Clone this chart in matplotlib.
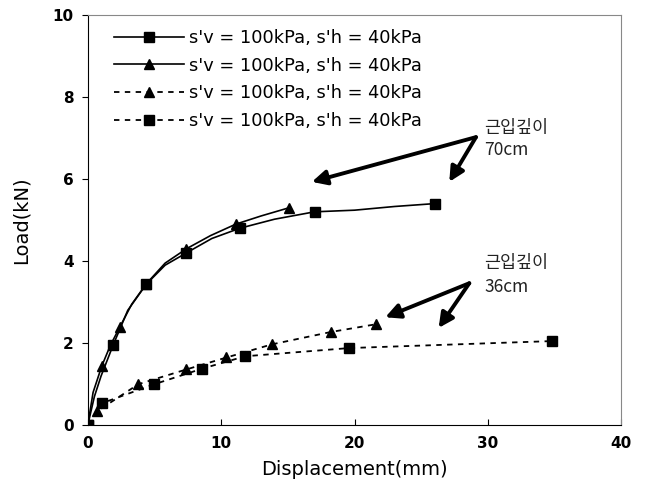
import matplotlib
matplotlib.use("Agg")
import matplotlib.pyplot as plt

plt.rcParams['font.family'] = ['DejaVu Sans', 'Noto Sans CJK KR']

label = "s'v = 100kPa, s'h = 40kPa"

# Series 1: solid, squares (70cm)
s1_x = [0, 0.5, 1.0, 1.9, 3.0, 4.4, 5.8, 7.4, 9.3, 11.4, 14.0, 17.0, 20.0, 23.0, 26.0]
s1_y = [0, 0.7, 1.2, 1.95, 2.8, 3.44, 3.9, 4.2, 4.55, 4.8, 5.02, 5.2, 5.24, 5.33, 5.4]
s1_marks = [0, 3, 5, 7, 9, 11, 14]

# Series 2: solid, triangles (70cm)
s2_x = [0, 0.4, 1.05, 1.7, 2.4, 3.3, 4.4, 5.8, 7.4, 9.2, 11.1, 13.0, 15.1]
s2_y = [0, 0.8, 1.44, 1.95, 2.39, 2.95, 3.45, 3.95, 4.3, 4.62, 4.9, 5.1, 5.3]
s2_marks = [0, 2, 4, 6, 8, 10, 12]

# Series 3: dotted, triangles (36cm)
s3_x = [0, 0.7, 3.8, 7.4, 10.4, 13.8, 18.2, 21.6]
s3_y = [0, 0.34, 1.0, 1.36, 1.65, 1.97, 2.27, 2.46]

# Series 4: dotted, squares (36cm)
s4_x = [0, 1.1, 5.0, 8.6, 11.8, 19.6, 34.8]
s4_y = [0, 0.54, 1.0, 1.38, 1.68, 1.88, 2.05]

x_ticks = [0, 10, 20, 30, 40]
y_ticks = [0, 2, 4, 6, 8, 10]

fig = plt.figure(figsize=(6.5, 4.95), dpi=100)
ax = fig.add_axes([0.135, 0.141, 0.821, 0.829])

ms = 7
ax.plot(s1_x, s1_y, '-', color='black', lw=1.2, marker='s', ms=ms,
        markevery=s1_marks, label=label)
ax.plot(s2_x, s2_y, '-', color='black', lw=1.2, marker='^', ms=ms,
        markevery=s2_marks, label=label)
ax.plot(s3_x, s3_y, color='black', lw=1.3, ls=(0, (3, 3)), marker='^', ms=ms,
        label=label)
ax.plot(s4_x, s4_y, color='black', lw=1.3, ls=(0, (3, 3)), marker='s', ms=ms,
        label=label)

ax.set_xlim(0, 40)
ax.set_ylim(0, 10)
ax.set_xticks(x_ticks)
ax.set_yticks(y_ticks)
ax.tick_params(axis='x', direction='in', length=4, labelsize=11, pad=8)
ax.tick_params(axis='y', direction='out', length=4, labelsize=11, pad=6)
for t in ax.get_xticklabels() + ax.get_yticklabels():
    t.set_fontweight('bold')
for s in ['top', 'right']:
    ax.spines[s].set_color('#888888')
for s in ['left', 'bottom']:
    ax.spines[s].set_color('black')

ax.set_xlabel('Displacement(mm)', fontsize=14, labelpad=6)
ax.set_ylabel('Load(kN)', fontsize=14, labelpad=16)

leg = ax.legend(loc='upper left', bbox_to_anchor=(0.02, 1.005), frameon=False,
                fontsize=12.8, handlelength=3.9, handletextpad=0.3,
                labelspacing=0.55)

arrow = dict(arrowstyle='-|>', lw=2.8, color='black', mutation_scale=22,
             shrinkA=0, shrinkB=0)
ax.annotate('', xy=(16.8, 5.93), xytext=(29.1, 7.02), arrowprops=arrow)
ax.annotate('', xy=(27.1, 5.93), xytext=(29.1, 7.02), arrowprops=arrow)
ax.annotate('', xy=(22.3, 2.63), xytext=(28.6, 3.46), arrowprops=arrow)
ax.annotate('', xy=(26.3, 2.37), xytext=(28.6, 3.46), arrowprops=arrow)

kfont = ['Noto Sans CJK KR', 'DejaVu Sans']
tc = '#222222'
ax.text(29.7, 7.25, '근입깊이', fontsize=12.5, family=kfont, va='center', ha='left', color=tc)
ax.text(29.7, 6.70, '70cm', fontsize=12.5, family=kfont, va='center', ha='left', color=tc)
ax.text(29.7, 3.95, '근입깊이', fontsize=12.5, family=kfont, va='center', ha='left', color=tc)
ax.text(29.7, 3.37, '36cm', fontsize=12.5, family=kfont, va='center', ha='left', color=tc)

fig.savefig('out.png', dpi=100)
